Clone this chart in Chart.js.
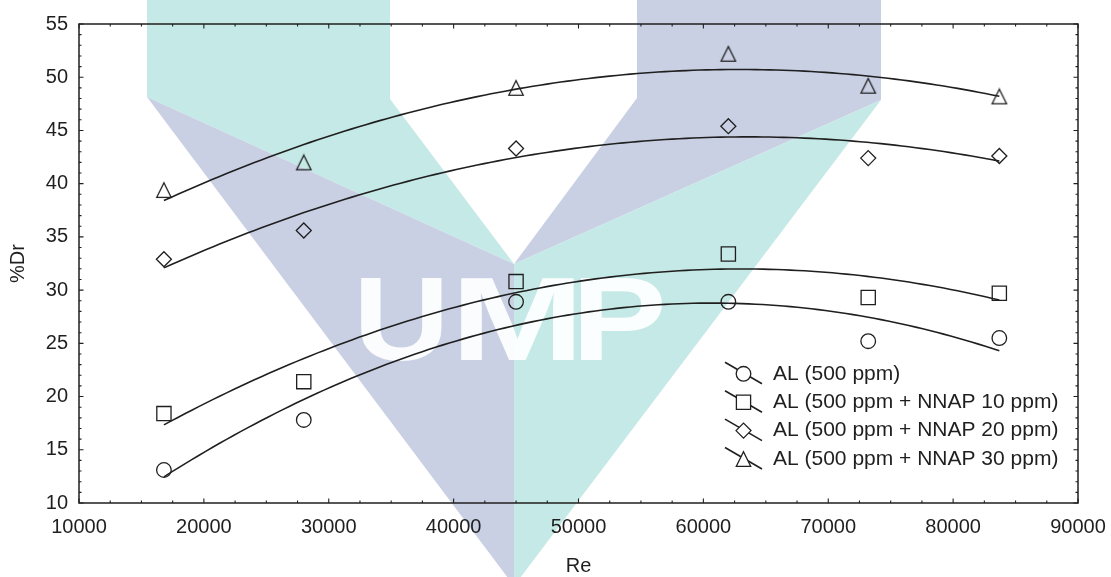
<!DOCTYPE html>
<html>
<head>
<meta charset="utf-8">
<script src="https://cdn.jsdelivr.net/npm/chart.js@4.4.1/dist/chart.umd.min.js"></script>
<style>
  html, body { margin: 0; padding: 0; background: #ffffff; }
  #wrap { width: 1111px; height: 577px; }
</style>
</head>
<body>
<div id="wrap"><canvas id="c" width="1111" height="577"></canvas></div>
<script>
// Drag reduction (%Dr) against Reynolds number for AL and AL + NNAP blends
const reynolds  = [16800, 28000, 45000, 62000, 73200, 83700];
const drAL500   = [13.1, 17.8, 28.9, 28.9, 25.2, 25.5];
const drNNAP10  = [18.4, 21.4, 30.8, 33.4, 29.3, 29.7];
const drNNAP20  = [32.9, 35.6, 43.3, 45.4, 42.4, 42.6];
const drNNAP30  = [39.4, 42.0, 49.0, 52.2, 49.2, 48.2];

const seriesLabels = [
  'AL (500 ppm)',
  'AL (500 ppm + NNAP 10 ppm)',
  'AL (500 ppm + NNAP 20 ppm)',
  'AL (500 ppm + NNAP 30 ppm)'
];
const markerShapes = ['circle', 'square', 'diamond', 'triangle'];

const xTickValues = [10000, 20000, 30000, 40000, 50000, 60000, 70000, 80000, 90000];
const yTickValues = [10, 15, 20, 25, 30, 35, 40, 45, 50, 55];
const xMinorStep = 2500;
const yMinorStep = 1;

const INK = '#1f1f1f';
const FONT = '"Liberation Sans", Arial, sans-serif';
const TEAL = 'rgb(197,233,230)';
const LAVENDER = 'rgb(201,208,228)';

// Second-order least-squares trend through a series
function quadFit(xs, ys) {
  const n = xs.length;
  const mx = xs.reduce((s, v) => s + v, 0) / n;
  const sc = 10000;
  const S = [0, 0, 0, 0, 0], T = [0, 0, 0];
  xs.forEach((x, i) => {
    const d = (x - mx) / sc;
    let p = 1;
    for (let k = 0; k <= 4; k++) { S[k] += p; if (k <= 2) T[k] += p * ys[i]; p *= d; }
  });
  const a = [
    [S[0], S[1], S[2], T[0]],
    [S[1], S[2], S[3], T[1]],
    [S[2], S[3], S[4], T[2]]
  ];
  for (let i = 0; i < 3; i++) {
    let p = i;
    for (let r = i + 1; r < 3; r++) if (Math.abs(a[r][i]) > Math.abs(a[p][i])) p = r;
    [a[i], a[p]] = [a[p], a[i]];
    for (let r = 0; r < 3; r++) {
      if (r === i) continue;
      const f = a[r][i] / a[i][i];
      for (let c = i; c < 4; c++) a[r][c] -= f * a[i][c];
    }
  }
  const c0 = a[0][3] / a[0][0], c1 = a[1][3] / a[1][1], c2 = a[2][3] / a[2][2];
  return x => { const d = (x - mx) / sc; return c0 + c1 * d + c2 * d * d; };
}

// Marker outlines, shared by the legend and the triangle point image
function drawMarker(ctx, shape, x, y, fill) {
  ctx.beginPath();
  if (shape === 'circle') {
    ctx.arc(x, y, 7.3, 0, Math.PI * 2);
  } else if (shape === 'square') {
    ctx.rect(x - 7.1, y - 7.1, 14.2, 14.2);
  } else if (shape === 'diamond') {
    ctx.moveTo(x - 7.5, y); ctx.lineTo(x, y - 7.5); ctx.lineTo(x + 7.5, y); ctx.lineTo(x, y + 7.5); ctx.closePath();
  } else {
    ctx.moveTo(x, y - 7.3); ctx.lineTo(x + 7.2, y + 7.3); ctx.lineTo(x - 7.2, y + 7.3); ctx.closePath();
  }
  if (fill) { ctx.fillStyle = fill; ctx.fill(); }
  ctx.lineWidth = 1.3;
  ctx.strokeStyle = INK;
  ctx.stroke();
}

const triangleImg = document.createElement('canvas');
triangleImg.width = 18; triangleImg.height = 18;
drawMarker(triangleImg.getContext('2d'), 'triangle', 9, 9, null);

const pointStyles = {
  circle:   { pointStyle: 'circle',  pointRadius: 7.3 },
  square:   { pointStyle: 'rect',    pointRadius: 10.05 },
  diamond:  { pointStyle: 'rectRot', pointRadius: 7.5 },
  triangle: { pointStyle: triangleImg, pointRadius: 9 }
};

const FIT_STEPS = 120;
const allSeries = [drAL500, drNNAP10, drNNAP20, drNNAP30];
const datasets = [];
allSeries.forEach((ys, i) => {
  const f = quadFit(reynolds, ys);
  const x0 = reynolds[0], x1 = reynolds[reynolds.length - 1];
  const trend = [];
  for (let k = 0; k <= FIT_STEPS; k++) {
    const x = x0 + (x1 - x0) * k / FIT_STEPS;
    trend.push({ x, y: f(x) });
  }
  datasets.push({
    label: seriesLabels[i] + ' fit',
    data: trend,
    showLine: true,
    borderColor: INK,
    borderWidth: 1.6,
    pointRadius: 0,
    fill: false,
    tension: 0
  });
  datasets.push(Object.assign({
    label: seriesLabels[i],
    data: reynolds.map((x, j) => ({ x, y: ys[j] })),
    showLine: false,
    pointBorderColor: INK,
    pointBackgroundColor: 'rgba(0,0,0,0)',
    pointBorderWidth: 1.3,
    pointHoverRadius: 0
  }, pointStyles[markerShapes[i]]));
});

// University logo watermark behind the plot
const watermark = {
  id: 'watermark',
  beforeDraw(chart) {
    const ctx = chart.ctx;
    ctx.save();
    ctx.fillStyle = '#ffffff';
    ctx.fillRect(0, 0, chart.width, chart.height);
    const poly = (color, pts) => {
      ctx.beginPath();
      pts.forEach(([x, y], k) => k ? ctx.lineTo(x, y) : ctx.moveTo(x, y));
      ctx.closePath();
      ctx.fillStyle = color;
      ctx.fill();
    };
    poly(TEAL,     [[147, 0], [390, 0], [390, 99], [514, 264], [147, 97]]);
    poly(LAVENDER, [[147, 97], [514, 264], [514, 582], [511, 582]]);
    poly(LAVENDER, [[637, 0], [881, 0], [881, 100], [514, 264], [637, 98]]);
    poly(TEAL,     [[881, 100], [514, 264], [514, 582], [517, 582]]);
    ctx.fillStyle = 'rgba(255,255,255,0.93)';
    ctx.font = 'bold 119px ' + FONT;
    ctx.textAlign = 'center';
    ctx.textBaseline = 'alphabetic';
    [['U', 401.5, 1.12], ['M', 517.5, 1.35], ['P', 619, 1.2]].forEach(([ch, cx, sx]) => {
      ctx.save();
      ctx.translate(cx, 360);
      ctx.scale(sx, 1);
      ctx.fillText(ch, 0, 0);
      ctx.restore();
    });
    ctx.restore();
  }
};

// Boxed frame with inward major/minor ticks, plus the in-plot legend
const frameAndLegend = {
  id: 'frameAndLegend',
  afterDraw(chart) {
    const ctx = chart.ctx;
    const { left, right, top, bottom } = chart.chartArea;
    const xs = chart.scales.x, ys = chart.scales.y;
    ctx.save();
    ctx.strokeStyle = INK;
    ctx.lineWidth = 1.5;
    ctx.strokeRect(left, top, right - left, bottom - top);
    ctx.lineWidth = 1.1;
    ctx.beginPath();
    for (let v = xs.min; v <= xs.max + 1e-6; v += xMinorStep) {
      const px = xs.getPixelForValue(v);
      const len = xTickValues.includes(v) ? 4.5 : 2.5;
      ctx.moveTo(px, bottom); ctx.lineTo(px, bottom - len);
      ctx.moveTo(px, top);    ctx.lineTo(px, top + len);
    }
    for (let v = ys.min; v <= ys.max + 1e-6; v += yMinorStep) {
      const py = ys.getPixelForValue(v);
      const len = yTickValues.includes(Math.round(v)) ? 4.5 : 2.5;
      ctx.moveTo(left, py);  ctx.lineTo(left + len, py);
      ctx.moveTo(right, py); ctx.lineTo(right - len, py);
    }
    ctx.stroke();

    // legend
    const rowY0 = 373.8, rowStep = 28.4;
    ctx.font = '21px ' + FONT;
    ctx.textAlign = 'left';
    ctx.textBaseline = 'middle';
    seriesLabels.forEach((label, i) => {
      const y = rowY0 + i * rowStep;
      const mx = 743.5;
      ctx.beginPath();
      ctx.moveTo(mx - 18.5, y - 11.5);
      ctx.lineTo(mx + 18.5, y + 10);
      ctx.lineWidth = 1.6;
      ctx.strokeStyle = INK;
      ctx.stroke();
      drawMarker(ctx, markerShapes[i], mx, y, '#ffffff');
      ctx.fillStyle = INK;
      ctx.fillText(label, 773, y);
    });
    ctx.restore();
  }
};

new Chart(document.getElementById('c'), {
  type: 'scatter',
  data: { datasets },
  options: {
    responsive: false,
    devicePixelRatio: 1,
    animation: false,
    events: [],
    layout: { padding: { top: 24, right: 33, left: 0, bottom: 0 } },
    plugins: { legend: { display: false }, tooltip: { enabled: false } },
    scales: {
      x: {
        type: 'linear',
        min: xTickValues[0],
        max: xTickValues[xTickValues.length - 1],
        afterBuildTicks: s => { s.ticks = xTickValues.map(value => ({ value })); },
        afterFit: s => { s.height = 74; s.paddingLeft = 0; s.paddingRight = 0; },
        grid: { display: false, drawTicks: false },
        border: { display: false },
        ticks: {
          autoSkip: false, maxRotation: 0, padding: 12, color: INK,
          font: { family: FONT, size: 20 },
          callback: v => String(v)
        },
        title: {
          display: true, text: 'Re', color: INK, padding: 0,
          font: { family: FONT, size: 20, lineHeight: 1.1 }
        }
      },
      y: {
        type: 'linear',
        min: yTickValues[0],
        max: yTickValues[yTickValues.length - 1],
        afterBuildTicks: s => { s.ticks = yTickValues.map(value => ({ value })); },
        afterFit: s => { s.width = 79; s.paddingTop = 0; s.paddingBottom = 0; },
        grid: { display: false, drawTicks: false },
        border: { display: false },
        ticks: {
          padding: 11, color: INK,
          font: { family: FONT, size: 20 },
          callback: v => String(v)
        },
        title: {
          display: true, text: '%Dr', color: INK, padding: { top: 6, bottom: 0 },
          font: { family: FONT, size: 20, lineHeight: 1.2 }
        }
      }
    }
  },
  plugins: [watermark, frameAndLegend]
});
</script>
</body>
</html>
